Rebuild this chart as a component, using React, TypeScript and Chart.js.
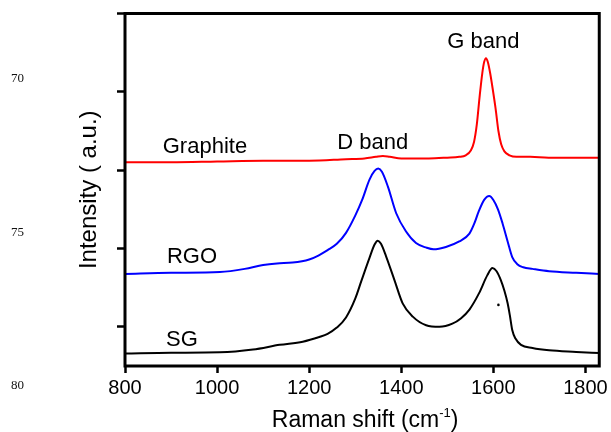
import React, { useEffect, useRef } from "react";
import { Chart, registerables } from "chart.js";

Chart.register(...registerables);

// ---------- data ----------
const graphiteShift = [800, 900, 1000, 1100, 1200, 1280, 1320, 1345, 1360, 1375, 1400, 1430, 1460, 1500, 1526, 1540, 1551, 1558, 1564, 1570, 1576, 1580, 1584, 1588, 1593, 1599, 1605, 1611, 1617, 1624, 1635, 1650, 1680, 1720, 1760, 1800, 1830];
const graphiteIntensity = [2.10, 2.10, 2.11, 2.12, 2.12, 2.14, 2.15, 2.17, 2.18, 2.17, 2.15, 2.15, 2.15, 2.16, 2.17, 2.19, 2.25, 2.36, 2.58, 2.93, 3.24, 3.38, 3.43, 3.38, 3.24, 3.02, 2.78, 2.50, 2.33, 2.24, 2.19, 2.17, 2.17, 2.16, 2.16, 2.16, 2.16];

const rgoShift = [800, 900, 1006, 1060, 1100, 1130, 1164, 1200, 1220, 1240, 1260, 1280, 1300, 1315, 1331, 1342, 1350, 1358, 1371, 1389, 1410, 1432, 1455, 1470, 1497, 1526, 1548, 1558, 1568, 1580, 1591, 1600, 1610, 1620, 1631, 1641, 1652, 1665, 1685, 1721, 1780, 1830];
const rgoIntensity = [0.675, 0.69, 0.70, 0.74, 0.79, 0.81, 0.82, 0.86, 0.91, 0.98, 1.06, 1.20, 1.42, 1.62, 1.88, 1.99, 2.02, 1.98, 1.79, 1.45, 1.22, 1.07, 1.01, 0.99, 1.02, 1.09, 1.19, 1.31, 1.47, 1.62, 1.67, 1.62, 1.50, 1.32, 1.09, 0.89, 0.80, 0.76, 0.74, 0.71, 0.69, 0.675];

const sgShift = [800, 900, 1006, 1078, 1136, 1186, 1222, 1240, 1260, 1280, 1300, 1313, 1331, 1342, 1349, 1356, 1367, 1385, 1403, 1425, 1454, 1483, 1511, 1530, 1548, 1569, 1587, 1598, 1607, 1616, 1624, 1631, 1636, 1641, 1648, 1660, 1685, 1721, 1780, 1830];
const sgIntensity = [-0.34, -0.33, -0.325, -0.29, -0.23, -0.19, -0.13, -0.09, -0.01, 0.12, 0.36, 0.58, 0.88, 1.05, 1.10, 1.06, 0.90, 0.60, 0.30, 0.13, 0.02, 0.00, 0.04, 0.11, 0.22, 0.43, 0.66, 0.75, 0.71, 0.60, 0.46, 0.30, 0.14, -0.04, -0.15, -0.23, -0.27, -0.30, -0.32, -0.335];

const dotShift = [1611];
const dotIntensity = [0.28];

const xTicks = [800, 1000, 1200, 1400, 1600, 1800];
const yTicks = [0, 1, 2, 3, 4];

const labelTexts = ["Graphite", "D band", "G band", "RGO", "SG"];
const labelShift = [882, 1261, 1500, 891, 889];
const labelIntensity = [2.22, 2.27, 3.56, 0.815, -0.245];

const sideNumbers = ["70", "75", "80"];

const FONT = "'Liberation Sans', Arial, sans-serif";

const toPoints = (xs: number[], ys: number[]) => xs.map((x, i) => ({ x, y: ys[i] }));

const decorPlugin = {
  id: "decor",
  afterDraw(chart: any) {
    const { ctx, chartArea, scales } = chart;
    const { left, top, right, bottom } = chartArea;
    ctx.save();
    // frame
    ctx.strokeStyle = "#000";
    ctx.lineWidth = 3;
    ctx.strokeRect(left, top, right - left, bottom - top);

    // annotations
    ctx.fillStyle = "#000";
    ctx.font = `22px ${FONT}`;
    ctx.textAlign = "left";
    ctx.textBaseline = "alphabetic";
    labelTexts.forEach((t, i) => {
      ctx.fillText(t, scales.x.getPixelForValue(labelShift[i]), scales.y.getPixelForValue(labelIntensity[i]));
    });

    // x title with superscript
    const main = "Raman shift (cm";
    const sup = "-1";
    const close = ")";
    ctx.font = `23px ${FONT}`;
    const wMain = ctx.measureText(main).width;
    const wClose = ctx.measureText(close).width;
    ctx.font = `13px ${FONT}`;
    const wSup = ctx.measureText(sup).width;
    const total = wMain + wSup + wClose;
    const cx = (left + right) / 2 + 3;
    const x0 = cx - total / 2;
    const base = 427;
    ctx.font = `23px ${FONT}`;
    ctx.fillText(main, x0, base);
    ctx.font = `13px ${FONT}`;
    ctx.fillText(sup, x0 + wMain, base - 10);
    ctx.font = `23px ${FONT}`;
    ctx.fillText(close, x0 + wMain + wSup, base);

    // side serif numbers
    ctx.font = "13px 'Liberation Serif', 'Times New Roman', serif";
    ctx.fillStyle = "#111";
    ctx.textAlign = "center";
    ctx.textBaseline = "middle";
    const ys = [79, 233, 386];
    sideNumbers.forEach((t, i) => ctx.fillText(t, 17.5, ys[i]));
    ctx.restore();
  },
};

export default function App() {
  const ref = useRef<HTMLCanvasElement | null>(null);
  useEffect(() => {
    document.body.style.margin = "0";
    if (!ref.current) return;
    const line = (label: string, xs: number[], ys: number[], color: string) => ({
      label,
      data: toPoints(xs, ys),
      borderColor: color,
      backgroundColor: color,
      borderWidth: 2,
      pointRadius: 0,
      cubicInterpolationMode: "monotone" as const,
      fill: false,
    });
    const chart = new Chart(ref.current, {
      type: "line",
      data: {
        datasets: [
          line("Graphite", graphiteShift, graphiteIntensity, "#ff0000"),
          line("RGO", rgoShift, rgoIntensity, "#0000ff"),
          line("SG", sgShift, sgIntensity, "#000000"),
          {
            label: "dot",
            data: toPoints(dotShift, dotIntensity),
            showLine: false,
            pointRadius: 1.3,
            pointBackgroundColor: "#000",
            pointBorderWidth: 0,
            borderColor: "#000",
          } as any,
        ],
      },
      options: {
        responsive: false,
        animation: false,
        events: [],
        layout: { padding: { top: 13.5, right: 10.5, left: 0, bottom: 0 } },
        plugins: { legend: { display: false }, tooltip: { enabled: false } },
        scales: {
          x: {
            type: "linear",
            min: 800,
            max: 1830,
            afterBuildTicks: (s: any) => {
              s.ticks = xTicks.map((v) => ({ value: v }));
            },
            afterFit: (s: any) => {
              s.height = 66;
            },
            ticks: {
              font: { size: 20, family: FONT },
              color: "#000",
              padding: 3,
              maxRotation: 0,
              autoSkip: false,
              callback: (v: any) => String(v),
            },
            grid: { display: true, drawOnChartArea: false, drawTicks: true, tickLength: 7, tickWidth: 2.5, color: "#000" },
            border: { display: false },
          },
          y: {
            type: "linear",
            min: -0.5,
            max: 4,
            afterBuildTicks: (s: any) => {
              s.ticks = yTicks.map((v) => ({ value: v }));
            },
            afterFit: (s: any) => {
              s.width = 125;
            },
            ticks: { display: false },
            grid: { display: true, drawOnChartArea: false, drawTicks: true, tickLength: 8, tickWidth: 2.5, color: "#000" },
            border: { display: false },
            title: {
              display: true,
              text: "Intensity ( a.u.)",
              color: "#000",
              font: { size: 24, family: FONT },
              padding: { top: 75, bottom: 0 },
            },
          },
        },
      },
      plugins: [decorPlugin],
    });
    return () => chart.destroy();
  }, []);
  return <canvas ref={ref} width={611} height={432} style={{ display: "block" }} />;
}
